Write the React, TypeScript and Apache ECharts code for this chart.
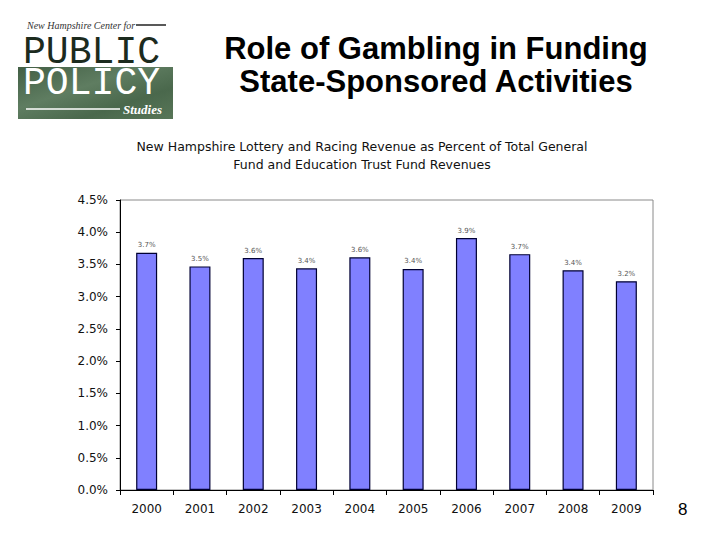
import React, { useEffect, useRef } from "react";
import * as echarts from "echarts";

const years = ["2000", "2001", "2002", "2003", "2004", "2005", "2006", "2007", "2008", "2009"];
const shares = [3.68, 3.47, 3.6, 3.44, 3.61, 3.43, 3.91, 3.66, 3.41, 3.24];
const titleLines = ["Role of Gambling in Funding", "State-Sponsored Activities"];
const subtitleLines = [
  "New Hampshire Lottery and Racing Revenue as Percent of Total General",
  "Fund and Education Trust Fund Revenues",
];
const pageNumber = "8";

export default function App() {
  const ref = useRef<HTMLDivElement>(null);
  useEffect(() => {
    if (!ref.current) return;
    const chart = echarts.init(ref.current, null, { renderer: "svg" });
    const font = "DejaVu Sans";
    chart.setOption({
      animation: false,
      backgroundColor: "#ffffff",
      grid: {
        left: 120,
        right: 75,
        top: 200,
        bottom: 56,
        show: true,
        borderColor: "#8a8a8a",
        borderWidth: 1,
        backgroundColor: "transparent",
      },
      xAxis: {
        type: "category",
        data: years,
        axisLine: { lineStyle: { color: "#000", width: 1 } },
        axisTick: { show: true, alignWithLabel: false, length: 5, lineStyle: { color: "#000" } },
        axisLabel: { color: "#111", fontFamily: font, fontSize: 12, margin: 13 },
        splitLine: { show: false },
      },
      yAxis: {
        type: "value",
        min: 0,
        max: 4.5,
        interval: 0.5,
        axisLine: { show: true, lineStyle: { color: "#000", width: 1 } },
        axisTick: { show: true, inside: false, length: 4, lineStyle: { color: "#000" } },
        axisLabel: {
          color: "#111",
          fontFamily: font,
          fontSize: 12,
          margin: 12,
          formatter: (v: number) => v.toFixed(1) + "%",
        },
        splitLine: { show: false },
      },
      series: [
        {
          type: "bar",
          data: shares,
          barWidth: 21,
          itemStyle: { color: "#8080ff", borderColor: "#000033", borderWidth: 1.2 },
          label: {
            show: true,
            position: "top",
            distance: 4,
            fontFamily: font,
            fontSize: 7,
            color: "#555",
            formatter: (p: any) => Number(p.value).toFixed(1) + "%",
          },
        },
      ],
      graphic: [
        {
          type: "text",
          x: 436,
          y: 32,
          style: {
            text: titleLines.join("\n"),
            font: "bold 31px 'Liberation Sans'",
            fill: "#000",
            textAlign: "center",
            lineHeight: 33,
          },
        },
        {
          type: "text",
          x: 362,
          y: 137,
          style: {
            text: subtitleLines.join("\n"),
            font: "12.5px 'DejaVu Sans'",
            fill: "#111",
            textAlign: "center",
            lineHeight: 18,
          },
        },
        {
          type: "text",
          x: 678,
          y: 501,
          style: { text: pageNumber, font: "17px 'Liberation Sans'", fill: "#000" },
        },
        {
          type: "group",
          children: [
            {
              type: "rect",
              shape: { x: 18, y: 67, width: 155, height: 52 },
              style: {
                fill: new echarts.graphic.LinearGradient(0, 0, 1, 1, [
                  { offset: 0, color: "#425f45" },
                  { offset: 0.4, color: "#5f7d61" },
                  { offset: 0.7, color: "#4a684c" },
                  { offset: 1, color: "#587658" },
                ]),
              },
            },
            {
              type: "text",
              x: 27,
              y: 25,
              style: {
                text: "New Hampshire Center for",
                font: "italic 10px 'Liberation Serif'",
                fill: "#333",
                textVerticalAlign: "middle",
              },
            },
            {
              type: "line",
              shape: { x1: 136, y1: 25, x2: 166, y2: 25 },
              style: { stroke: "#222", lineWidth: 1.5 },
            },
            {
              type: "text",
              x: 23,
              y: 52,
              scaleX: 1.36,
              scaleY: 1.36,
              style: {
                text: "PUBLIC",
                font: "28px 'Liberation Mono'",
                fill: "#1c2b1e",
                textVerticalAlign: "middle",
              },
            },
            {
              type: "text",
              x: 23,
              y: 83,
              scaleX: 1.36,
              scaleY: 1.36,
              style: {
                text: "POLICY",
                font: "28px 'Liberation Mono'",
                fill: "#ffffff",
                textVerticalAlign: "middle",
              },
            },
            {
              type: "line",
              shape: { x1: 26, y1: 109, x2: 120, y2: 109 },
              style: { stroke: "#ffffff", lineWidth: 1.5 },
            },
            {
              type: "text",
              x: 123,
              y: 109,
              style: {
                text: "Studies",
                font: "italic bold 13px 'Liberation Serif'",
                fill: "#ffffff",
                textVerticalAlign: "middle",
              },
            },
          ],
        },
      ],
    });
    return () => chart.dispose();
  }, []);
  return (
    <div
      ref={ref}
      style={{ position: "fixed", left: 0, top: 0, width: 728, height: 546, background: "#fff" }}
    />
  );
}
